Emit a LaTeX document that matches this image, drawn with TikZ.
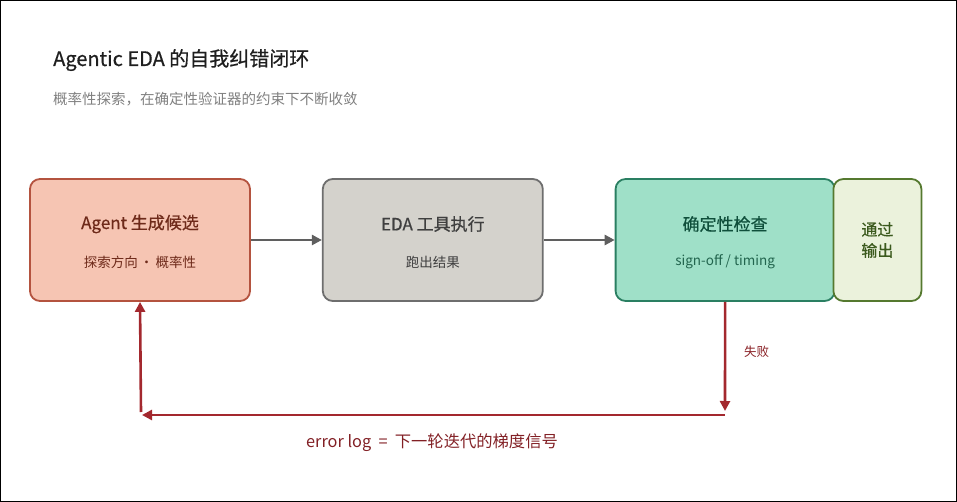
\documentclass[tikz,border=0pt]{standalone}
\usepackage{fontspec}
\setmainfont{Noto Sans CJK SC}
\newfontfamily\medfont[FakeBold=0.6]{Noto Sans CJK SC}
\usepackage{tikz}
\usetikzlibrary{positioning,arrows.meta,calc}
\definecolor{agentfill}{HTML}{F6C5B3}
\definecolor{agentdraw}{HTML}{B4533F}
\definecolor{agenttxt}{HTML}{6E2A1A}
\definecolor{edafill}{HTML}{D4D2CC}
\definecolor{edadraw}{HTML}{6E6E6E}
\definecolor{edatxt}{HTML}{3F3F3F}
\definecolor{chkfill}{HTML}{9FE0C8}
\definecolor{chkdraw}{HTML}{2A7F62}
\definecolor{chktxt}{HTML}{0F4F3B}
\definecolor{passfill}{HTML}{EBF2DC}
\definecolor{passdraw}{HTML}{55792F}
\definecolor{passtxt}{HTML}{3B5A1D}
\definecolor{arrgray}{HTML}{5F5F5F}
\definecolor{errred}{HTML}{A3282E}
\tikzset{
  blk/.style={draw, rounded corners=10pt, line width=1.8pt, minimum height=122pt, minimum width=220pt, inner sep=0pt},
  ttl/.style={font=\medfont\fontsize{17}{19}\selectfont, inner sep=0pt},
  sub/.style={font=\fontsize{13.5}{15}\selectfont, inner sep=0pt},
  arr/.style={-{Triangle[length=10pt,width=10pt]}, line width=2.4pt, arrgray},
  err/.style={-{Triangle[length=10pt,width=10pt]}, line width=2.6pt, errred},
}

\begin{document}
\begin{tikzpicture}[x=1pt, y=-1pt, node distance=71pt]
\useasboundingbox (0,0) rectangle (957,502);
\draw[line width=2pt] (0,0) rectangle (957,502);
\node[anchor=base west, inner sep=0pt, font=\medfont\fontsize{20}{22}\selectfont, text=black!88] (title) at (53,66) {Agentic EDA 的自我纠错闭环};
\node[anchor=base west, inner sep=0pt, font=\fontsize{14.5}{16}\selectfont, text=black!50] (subtitle) at (53,105) {概率性探索，在确定性验证器的约束下不断收敛};
% boxes
\node[blk, fill=agentfill, draw=agentdraw] (agent) at (140,240) {};
\node[blk, fill=edafill, draw=edadraw, right=of agent] (eda) {};
\node[blk, fill=chkfill, draw=chkdraw, right=of eda, minimum width=219pt] (chk) {};
\node[blk, fill=passfill, draw=passdraw, right=-3pt of chk, minimum width=88pt] (pass) {};
\node[ttl, text=agenttxt] (agentT) at ([yshift=16pt]agent.center) {Agent 生成候选};
\node[sub, text=agenttxt] (agentS) at ([yshift=-22pt]agent.center) {探索方向\,·\,概率性};
\node[ttl, text=edatxt] (edaT) at ([yshift=16pt]eda.center) {EDA 工具执行};
\node[sub, text=edatxt] (edaS) at ([yshift=-22pt]eda.center) {跑出结果};
\node[ttl, text=chktxt] (chkT) at ([yshift=16pt]chk.center) {确定性检查};
\node[sub, text=chkdraw!80!black] (chkS) at ([yshift=-22pt]chk.center) {sign-off / timing};
\node[ttl, text=passtxt, align=center, font=\medfont\fontsize{16}{21}\selectfont] (passT) at (pass.center) {通过\\输出};
% forward path
\draw[arr] (agent) -- (eda);
\draw[arr] (eda) -- (chk);
% feedback loop
\coordinate (dn) at (725,411);
\coordinate (rt) at (725,415);
\coordinate (lt) at (142,415);
\coordinate (up) at (141,412);
\draw[err] (chk.south) -- (dn);
\draw[err] (rt) -- (lt);
\draw[err] (up) -- (agent.south);
\node[sub, font=\fontsize{12.5}{14}\selectfont, text=errred!85!black, anchor=west] (fail) at (744,352) {失败};
\node[sub, font=\fontsize{16.3}{18}\selectfont, text=errred!80!black] (errlog) at (432,443) {error log ~=~ 下一轮迭代的梯度信号};
\end{tikzpicture}
\end{document}
